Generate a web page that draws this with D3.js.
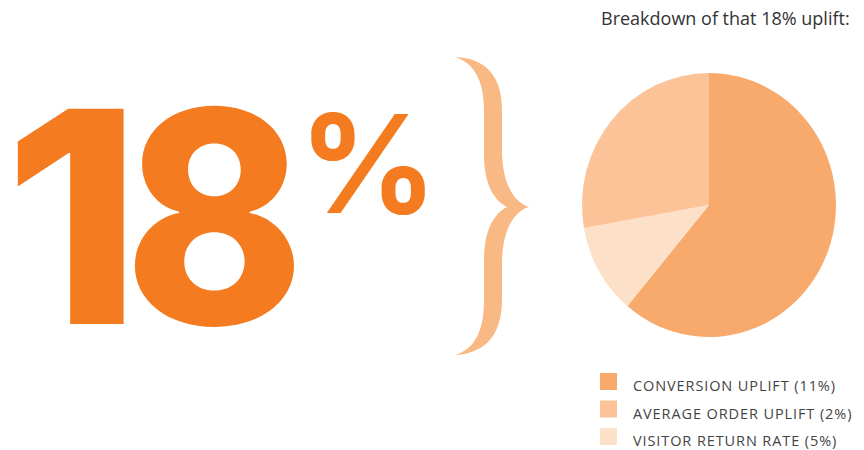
<!DOCTYPE html>
<html>
<head>
<meta charset="utf-8">
<script src="https://cdn.jsdelivr.net/npm/d3@7"></script>
<style>
  body { margin: 0; background: #fff; }
  svg { display: block; }
</style>
</head>
<body>
<div id="chart"></div>
<script>
// data
var total = 18;
var categories = ["CONVERSION UPLIFT", "AVERAGE ORDER UPLIFT", "VISITOR RETURN RATE"];
var values = [11, 2, 5];
var legendColors = ["#f8aa6d", "#fbc397", "#fde0c8"];
// the pie in the original colours its slices in a different order than the legend
var sliceColors = ["#f8aa6d", "#fde0c8", "#fbc397"];
var title = "Breakdown of that 18% uplift:";

var width = 864, height = 450;
var svg = d3.select("#chart").append("svg")
  .attr("width", width)
  .attr("height", height);

var bigFont = "'Inter', 'Roboto', sans-serif";

// big number, one glyph at a time (x offset, horizontal squeeze)
var digits = String(total).split("");
var digitX = [4, 124];
var digitSx = [1.05, 0.92];
svg.selectAll("text.digit")
  .data(digits)
  .enter().append("text")
    .attr("class", "digit")
    .attr("transform", function(d, i) { return "translate(" + digitX[i] + ",324) scale(" + digitSx[i] + ",1)"; })
    .attr("fill", "#f47b20")
    .style("font-family", bigFont)
    .style("font-weight", 800)
    .style("font-size", "296px")
    .text(function(d) { return d; });

svg.append("text")
  .attr("x", 299)
  .attr("y", 213)
  .attr("fill", "#f47b20")
  .style("font-family", bigFont)
  .style("font-weight", 700)
  .style("font-size", "136px")
  .text("%");

// curly brace
svg.append("path")
  .attr("fill", "#f9b985")
  .attr("d", "M455,57 C480,58 502,70 502,110 L502,150 C502,185 515,203 529,207 " +
    "C515,211 502,228 502,265 L502,300 C502,340 480,354 455,355 " +
    "C472,350 484,335 484,300 L484,260 C484,232 493,214 507,207 " +
    "C493,200 484,182 484,155 L484,110 C484,78 472,62 455,57 Z");

// title
svg.append("text")
  .attr("x", 601)
  .attr("y", 25)
  .attr("fill", "#333")
  .style("font-family", "'Open Sans', sans-serif")
  .style("font-size", "18px")
  .text(title);

// pie
var pie = d3.pie().sort(null).value(function(d) { return d; });
var arc = d3.arc().innerRadius(0).outerRadius(132);

var g = svg.append("g")
  .attr("transform", "translate(709,205) scale(0.962,1)");

g.selectAll("path")
  .data(pie(values))
  .enter().append("path")
    .attr("d", arc)
    .attr("fill", function(d, i) { return sliceColors[i]; });

// legend
var legend = svg.append("g")
  .attr("transform", "translate(600,373)");

var rows = legend.selectAll("g")
  .data(categories)
  .enter().append("g")
    .attr("transform", function(d, i) { return "translate(0," + (i * 27.5) + ")"; });

rows.append("rect")
  .attr("width", 17)
  .attr("height", 17)
  .attr("fill", function(d, i) { return legendColors[i]; });

rows.append("text")
  .attr("x", 33)
  .attr("y", 18)
  .attr("fill", "#444")
  .style("font-family", "'Open Sans', sans-serif")
  .style("font-size", "14.5px")
  .style("letter-spacing", "0.9px")
  .text(function(d, i) { return d + " (" + values[i] + "%)"; });
</script>
</body>
</html>
